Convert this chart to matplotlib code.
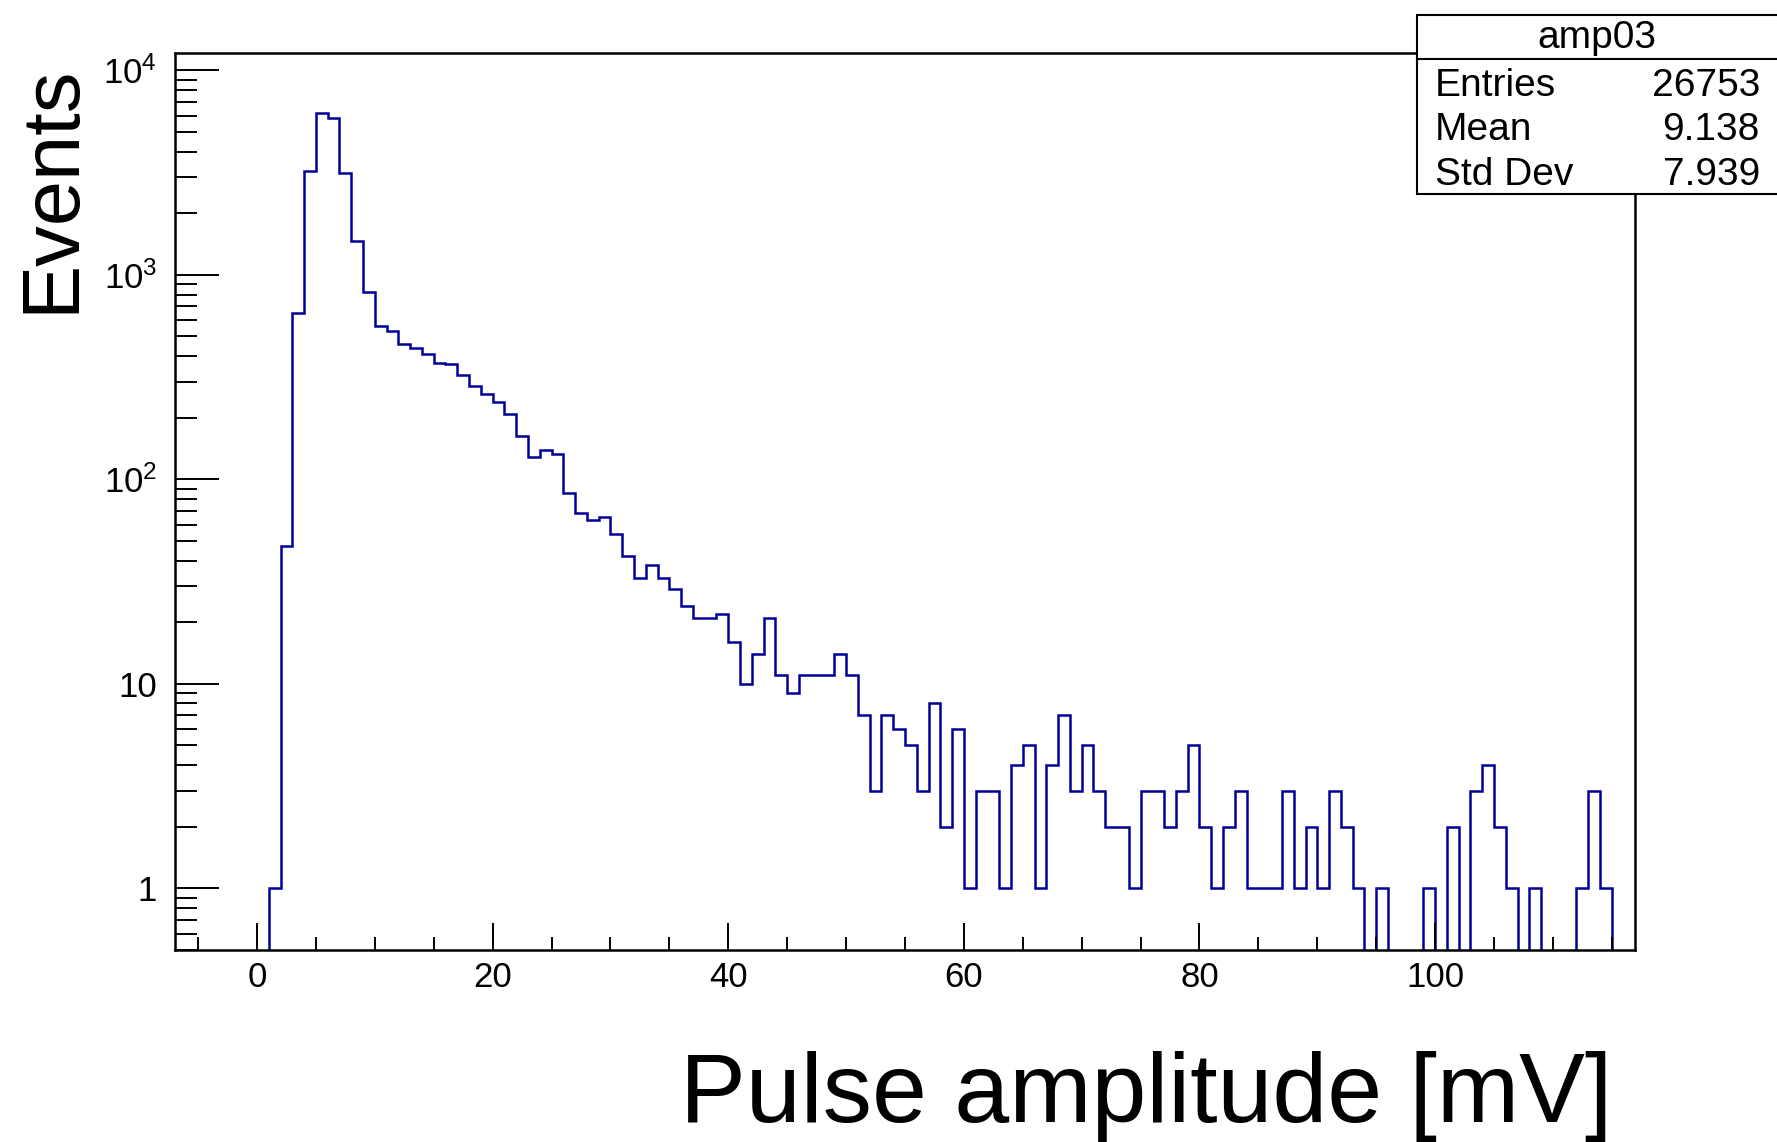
import numpy as np
import matplotlib
matplotlib.use("Agg")
import matplotlib.pyplot as plt
from matplotlib.ticker import MultipleLocator, LogLocator, FuncFormatter, NullFormatter
from matplotlib.patches import Rectangle

plt.rcParams['font.family'] = ['Liberation Sans', 'DejaVu Sans']
plt.rcParams['mathtext.fontset'] = 'custom'
plt.rcParams['mathtext.rm'] = 'Liberation Sans'

# histogram amp03: 124 bins of 1 mV from -7 to 117
x_min, x_max, n_bins = -7, 117, 124
counts = [
    0, 0, 0, 0, 0, 0, 0, 0,                       # -7 .. 0
    1, 47, 650, 3200, 6200, 5850, 3130, 1460, 826, 561,   # 1 .. 10
    532, 458, 437, 410, 371, 366, 323, 284, 261, 239,     # 11 .. 20
    208, 162, 128, 139, 133, 86, 68, 63, 65, 54,          # 21 .. 30
    42, 33, 38, 33, 29, 24, 21, 21, 22, 16,               # 31 .. 40
    10, 14, 21, 11, 9, 11, 11, 11, 14, 11,                # 41 .. 50
    7, 3, 7, 6, 5, 3, 8, 2, 6, 1,                         # 51 .. 60
    3, 3, 1, 4, 5, 1, 4, 7, 3, 5,                         # 61 .. 70
    3, 2, 2, 1, 3, 3, 2, 3, 5, 2,                         # 71 .. 80
    1, 2, 3, 1, 1, 1, 3, 1, 2, 1,                         # 81 .. 90
    3, 2, 1, 0, 1, 0, 0, 0, 1, 0,                         # 91 .. 100
    2, 0, 3, 4, 2, 1, 0, 1, 0, 0,                         # 101 .. 110
    0, 1, 3, 1, 0, 0,                                     # 111 .. 116
]
hist_name = "amp03"
stats = [("Entries", "26753"), ("Mean", "9.138"), ("Std Dev", "7.939")]
x_title = "Pulse amplitude [mV]"
y_title = "Events"

W, H = 1777, 1142
fig = plt.figure(figsize=(W / 100, H / 100), dpi=100)

def fx(px):
    return px / W

def fy(py):
    return 1 - py / H

# frame of the pad in pixels
left, right, top, bottom = 174.5, 1635.4, 53.3, 949.7
ax = fig.add_axes([fx(left), fy(bottom), fx(right) - fx(left), fy(top) - fy(bottom)])

edges = np.linspace(x_min, x_max, n_bins + 1)
ax.stairs(counts, edges, color='#000099', lw=1.8, baseline=None)

ax.set_yscale('log')
ax.set_xlim(x_min, x_max)
ax.set_ylim(0.5, 12100)

for s in ax.spines.values():
    s.set_linewidth(1.8)

ax.xaxis.set_major_locator(MultipleLocator(20))
ax.xaxis.set_minor_locator(MultipleLocator(5))
ax.yaxis.set_major_locator(LogLocator(base=10, numticks=10))
ax.yaxis.set_minor_locator(LogLocator(base=10, subs=np.arange(2, 10), numticks=20))
ax.yaxis.set_minor_formatter(NullFormatter())


def ylab(v, pos):
    e = int(round(np.log10(v)))
    if e == 0:
        return "1"
    if e == 1:
        return "10"
    return r"$\mathregular{10^{%d}}$" % e


ax.yaxis.set_major_formatter(FuncFormatter(ylab))

ax.tick_params(axis='x', which='major', direction='in', length=19.5, width=1.4, labelsize=25, pad=8)
ax.tick_params(axis='x', which='minor', direction='in', length=9.7, width=1.4)
ax.tick_params(axis='y', which='major', direction='in', length=31.5, width=1.4, labelsize=25, pad=12.5)
ax.tick_params(axis='y', which='minor', direction='in', length=15.8, width=1.4)

# axis titles (ROOT style: aligned to the axis end)
fig.text(fx(1612), fy(1121.7), x_title, ha='right', va='baseline', fontsize=71)
fig.text(fx(73), fy(65), y_title, rotation=90, rotation_mode='anchor',
         ha='right', va='baseline', fontsize=58.5)

# stats box
bx0, bx1, by0, by1, bsep = 1416.7, 1790, 15, 194, 59
fig.patches.append(Rectangle((fx(bx0), fy(by1)), fx(bx1) - fx(bx0), fy(by0) - fy(by1),
                             transform=fig.transFigure, facecolor='white',
                             edgecolor='black', lw=1.5, zorder=5))
fig.lines.append(plt.Line2D([fx(bx0), fx(bx1)], [fy(bsep), fy(bsep)],
                            transform=fig.transFigure, color='black', lw=1.5, zorder=6))
fig.text(fx((bx0 + 1777) / 2), fy(47.5), hist_name, ha='center', va='baseline',
         fontsize=28, zorder=7)
for i, (lab, val) in enumerate(stats):
    yb = 95.5 + i * 44.8
    fig.text(fx(1435), fy(yb), lab, ha='left', va='baseline', fontsize=28, zorder=7)
    fig.text(fx(1760), fy(yb), val, ha='right', va='baseline', fontsize=28, zorder=7)

fig.savefig("out.png", dpi=100)
